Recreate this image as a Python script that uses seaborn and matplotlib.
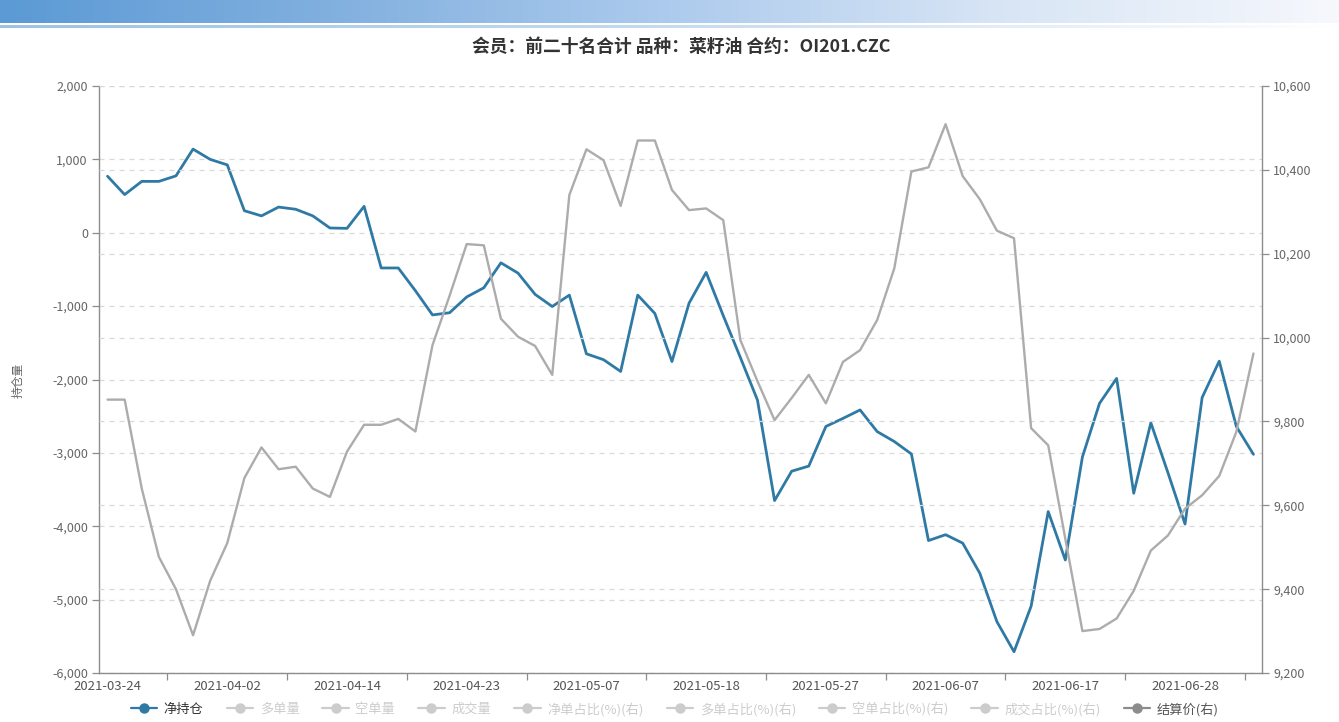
import numpy as np
import pandas as pd
import matplotlib
matplotlib.use("Agg")
import matplotlib.pyplot as plt
from matplotlib.lines import Line2D
from matplotlib.colors import LinearSegmentedColormap
from matplotlib.ticker import FuncFormatter, MultipleLocator, FixedLocator
import seaborn as sns

# Trading days (category axis)
dates = [
    "2021-03-24", "2021-03-25", "2021-03-26", "2021-03-29", "2021-03-30", "2021-03-31",
    "2021-04-01", "2021-04-02", "2021-04-06", "2021-04-07", "2021-04-08", "2021-04-09",
    "2021-04-12", "2021-04-13", "2021-04-14", "2021-04-15", "2021-04-16", "2021-04-19",
    "2021-04-20", "2021-04-21", "2021-04-22", "2021-04-23", "2021-04-26", "2021-04-27",
    "2021-04-28", "2021-04-29", "2021-04-30", "2021-05-06", "2021-05-07", "2021-05-10",
    "2021-05-11", "2021-05-12", "2021-05-13", "2021-05-14", "2021-05-17", "2021-05-18",
    "2021-05-19", "2021-05-20", "2021-05-21", "2021-05-24", "2021-05-25", "2021-05-26",
    "2021-05-27", "2021-05-28", "2021-05-31", "2021-06-01", "2021-06-02", "2021-06-03",
    "2021-06-04", "2021-06-07", "2021-06-08", "2021-06-09", "2021-06-10", "2021-06-11",
    "2021-06-15", "2021-06-16", "2021-06-17", "2021-06-18", "2021-06-21", "2021-06-22",
    "2021-06-23", "2021-06-24", "2021-06-25", "2021-06-28", "2021-06-29", "2021-06-30",
    "2021-07-01", "2021-07-02",
]

# 净持仓 (left axis)
net_position = [
    770, 520, 700, 700, 775, 1140, 1000, 925, 300, 230,
    350, 320, 230, 65, 60, 360, -480, -480, -790, -1120,
    -1090, -875, -750, -410, -550, -840, -1005, -850, -1650, -1730,
    -1890, -850, -1100, -1755, -960, -540, -1130, -1700, -2280, -3650,
    -3250, -3180, -2640, -2530, -2415, -2710, -2845, -3015, -4195, -4115,
    -4230, -4640, -5300, -5710, -5090, -3800, -4460, -3055, -2325, -1985,
    -3550, -2590, -3270, -3970, -2245, -1750, -2640, -3020,
]

# 结算价 (right axis)
settle_price = [
    9852, 9852, 9640, 9477, 9400, 9290, 9420, 9510, 9665, 9738,
    9686, 9692, 9640, 9620, 9728, 9792, 9792, 9806, 9776, 9982,
    10100, 10223, 10220, 10045, 10002, 9980, 9911, 10340, 10449, 10423,
    10314, 10470, 10470, 10352, 10304, 10308, 10280, 9994, 9896, 9803,
    9856, 9911, 9843, 9942, 9970, 10042, 10165, 10396, 10406, 10509,
    10385, 10330, 10255, 10237, 9784, 9743, 9520, 9300, 9305, 9330,
    9396, 9492, 9528, 9592, 9624, 9670, 9775, 9962,
]

legend_labels = ["净持仓", "多单量", "空单量", "成交量", "净单占比(%)(右)",
                 "多单占比(%)(右)", "空单占比(%)(右)", "成交占比(%)(右)", "结算价(右)"]
title_text = "会员：前二十名合计 品种：菜籽油 合约：OI201.CZC"
y_label = "持仓量"

sns.set_theme(style="white")
plt.rcParams["font.family"] = ["Noto Sans CJK SC", "DejaVu Sans"]

W, H = 1339, 722
fig = plt.figure(figsize=(W / 100, H / 100), dpi=100)
fig.patch.set_facecolor("white")

# Header gradient band
band_cmap = LinearSegmentedColormap.from_list(
    "band", ["#5b9ad5", "#82b0df", "#adcbed", "#d8e5f5", "#f6f8fc"])
band = fig.add_axes([0, 1 - 23 / H, 1, 23 / H])
band.imshow(np.linspace(0, 1, 512)[None, :], aspect="auto", cmap=band_cmap)
band.axis("off")
stripe_cmap = LinearSegmentedColormap.from_list(
    "stripe", ["#9cc3e6", "#c4dbf0", "#ffffff"])
stripe = fig.add_axes([0, 1 - 28 / H, 1, 3 / H])
stripe.imshow(np.linspace(0, 1, 512)[None, :], aspect="auto", cmap=stripe_cmap)
stripe.axis("off")

fig.text(0.509, 1 - 47 / H, title_text, ha="center", va="center",
         fontsize=12.8, fontweight="bold", color="#333333")

df = pd.DataFrame({"idx": np.arange(len(dates)),
                   "net": net_position,
                   "price": settle_price})

ax = fig.add_axes([99 / W, 1 - 673 / H, (1262 - 99) / W, (673 - 86) / H])
ax.set_facecolor("none")
ax2 = ax.twinx()

grid_kw = dict(color="#d9d9d9", linestyle=(0, (4, 4)), linewidth=0.9)

sns.lineplot(data=df, x="idx", y="net", ax=ax, color="#2f7aa5", linewidth=2.0)
sns.lineplot(data=df, x="idx", y="price", ax=ax2, color="#acacac", linewidth=1.7)

ax.set_xlim(-0.5, len(dates) - 0.5)
ax.set_ylim(-6000, 2000)
ax2.set_ylim(9200, 10600)

fmt = FuncFormatter(lambda v, p: f"{int(round(v)):,}")
ax.yaxis.set_major_locator(MultipleLocator(1000))
ax.yaxis.set_major_formatter(fmt)
ax2.yaxis.set_major_locator(MultipleLocator(200))
ax2.yaxis.set_major_formatter(fmt)

label_idx = list(range(0, len(dates), 7))
ax.xaxis.set_major_locator(FixedLocator(label_idx))
ax.set_xticklabels([dates[i] for i in label_idx])
ax.xaxis.set_minor_locator(FixedLocator([i + 3.5 for i in label_idx]))

ax.grid(axis="y", **grid_kw)
ax2.grid(axis="y", **grid_kw)
ax.grid(axis="x", visible=False)
ax2.grid(axis="x", visible=False)
ax.set_axisbelow(True)

ax.set_xlabel("")
ax.set_ylabel("")
ax2.set_ylabel("")

axis_color = "#8c8c8c"
for a in (ax, ax2):
    for s in a.spines.values():
        s.set_color(axis_color)
        s.set_linewidth(1.0)
    a.spines["top"].set_visible(False)
ax.spines["right"].set_visible(False)
ax2.spines["left"].set_visible(False)
ax2.spines["bottom"].set_visible(False)

ax.tick_params(axis="y", which="major", left=True, length=5, width=0.9,
               color=axis_color, labelsize=9, labelcolor="#666666", pad=3)
ax2.tick_params(axis="y", which="major", right=True, length=5, width=0.9,
                color=axis_color, labelsize=9, labelcolor="#666666", pad=3)
ax.tick_params(axis="x", which="major", bottom=True, length=0,
               labelsize=9.5, labelcolor="#555555", pad=5)
ax.tick_params(axis="x", which="minor", bottom=True, length=5, width=0.9,
               color=axis_color)

fig.text(18 / W, 1 - 380 / H, y_label, rotation=90, ha="center", va="center",
         fontsize=8.5, color="#666666")

# Legend row: only the first and last series are active
inactive = "#cccccc"
marker_colors = ["#2f7aa5"] + [inactive] * 7 + ["#8c8c8c"]
text_colors = ["#333333"] + [inactive] * 7 + ["#555555"]
handles = [Line2D([0], [0], color=c, marker="o", markersize=6.5, linewidth=1.6)
           for c in marker_colors]
leg = fig.legend(handles, legend_labels, loc="center",
                 bbox_to_anchor=(0.504, 1 - 709 / H), ncol=9, frameon=False,
                 fontsize=9.5, handlelength=2.0, handletextpad=0.5,
                 columnspacing=1.75)
for t, c in zip(leg.get_texts(), text_colors):
    t.set_color(c)

fig.savefig("out.png", dpi=100, facecolor="white")
